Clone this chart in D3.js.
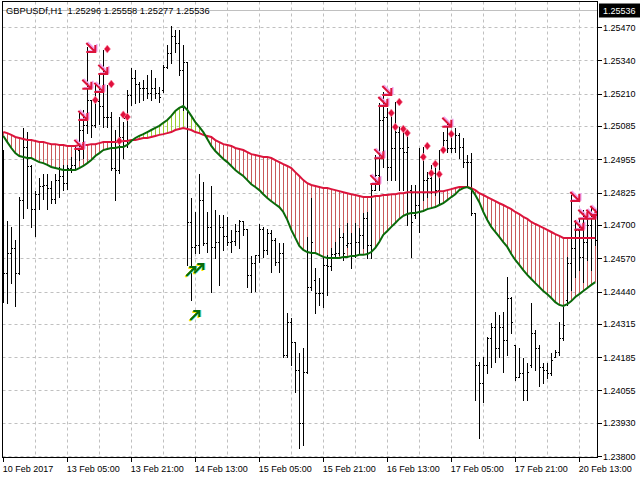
<!DOCTYPE html>
<html>
<head>
<meta charset="utf-8">
<script src="https://cdn.jsdelivr.net/npm/d3@7"></script>
<style>
  body { margin: 0; background: #fff; }
  svg { display: block; font-family: "Liberation Sans", Arial, sans-serif; }
</style>
</head>
<body>
<svg id="chart" width="640" height="480"></svg>
<script>
// GBPUSDf H1 bars, one entry per hour
const opens = [
  1.24758,1.24512,1.24590,1.24610,1.24512,1.24796,1.25003,1.24929,1.24761,1.24819,
  1.24851,1.24855,1.24843,1.24800,1.24874,1.24890,1.24862,1.24921,1.24933,1.24991,
  1.25069,1.25089,1.25186,1.25089,1.25182,1.25163,1.25120,1.25120,1.24921,1.24913,
  1.25042,1.25116,1.25206,1.25272,1.25248,1.25233,1.25233,1.25213,1.25233,1.25213,
  1.25225,1.25315,1.25368,1.25435,1.25407,1.25303,1.25334,1.24711,1.24614,1.24622,
  1.24796,1.24629,1.24692,1.24614,1.24633,1.24692,1.24657,1.24633,1.24637,1.24676,
  1.24715,1.24684,1.24505,1.24551,1.24583,1.24684,1.24602,1.24668,1.24641,1.24555,
  1.24590,1.24194,1.24321,1.24243,1.24135,1.23928,1.24127,1.24458,1.24485,1.24434,
  1.24434,1.24544,1.24540,1.24586,1.24590,1.24653,1.24622,1.24629,1.24583,1.24633,
  1.24661,1.24727,1.24622,1.24835,1.24894,1.25108,1.25120,1.24925,1.24999,1.25061,
  1.24999,1.24983,1.24835,1.24739,1.24777,1.24964,1.24874,1.24882,1.24901,1.24835,
  1.24991,1.25030,1.24999,1.24999,1.25050,1.25003,1.24944,1.24944,1.24746,1.24155,
  1.24084,1.24155,1.24259,1.24302,1.24221,1.24302,1.24251,1.24415,1.24232,1.24108,
  1.24123,1.24057,1.24155,1.24278,1.24221,1.24147,1.24135,1.24123,1.24186,1.24205,
  1.24259,1.24407,1.24551,1.24610,1.24680,1.24575,1.24633,1.24699,1.24727
];
const highs = [
  1.24991,1.24715,1.24692,1.24641,1.24808,1.25077,1.25061,1.24933,1.24831,1.24882,
  1.24897,1.24897,1.24870,1.24897,1.24925,1.24933,1.24933,1.24964,1.25003,1.25135,
  1.25147,1.25392,1.25186,1.25252,1.25284,1.25380,1.25245,1.25139,1.25069,1.25120,
  1.25100,1.25225,1.25311,1.25303,1.25256,1.25264,1.25284,1.25303,1.25272,1.25237,
  1.25323,1.25400,1.25474,1.25458,1.25458,1.25400,1.25334,1.24804,1.24750,1.24897,
  1.24866,1.24750,1.24851,1.24758,1.24739,1.24739,1.24731,1.24680,1.24703,1.24719,
  1.24715,1.24684,1.24579,1.24583,1.24703,1.24692,1.24684,1.24680,1.24649,1.24629,
  1.24629,1.24356,1.24337,1.24243,1.24201,1.24221,1.24653,1.24804,1.24532,1.24493,
  1.24575,1.24583,1.24610,1.24633,1.24688,1.24668,1.24707,1.24668,1.24707,1.24688,
  1.24746,1.24750,1.24862,1.24972,1.25174,1.25217,1.25155,1.25135,1.25178,1.25081,
  1.25069,1.25061,1.24855,1.24855,1.24999,1.25003,1.24905,1.24933,1.24925,1.24991,
  1.25061,1.25097,1.25069,1.25077,1.25057,1.25038,1.24972,1.24979,1.24746,1.24166,
  1.24186,1.24263,1.24317,1.24360,1.24349,1.24360,1.24497,1.24419,1.24232,1.24221,
  1.24182,1.24162,1.24395,1.24290,1.24232,1.24162,1.24162,1.24201,1.24213,1.24321,
  1.24380,1.24575,1.24816,1.24719,1.24727,1.24758,1.24750,1.24765,1.24765
];
const lows = [
  1.24399,1.24395,1.24473,1.24384,1.24508,1.24727,1.24765,1.24692,1.24657,1.24761,
  1.24800,1.24761,1.24784,1.24784,1.24808,1.24835,1.24839,1.24905,1.24917,1.24952,
  1.24960,1.25057,1.25042,1.25081,1.25092,1.25081,1.25081,1.24913,1.24796,1.24901,
  1.24960,1.25003,1.25167,1.25174,1.25178,1.25186,1.25194,1.25186,1.25194,1.25178,
  1.25217,1.25311,1.25330,1.25372,1.25284,1.25147,1.24544,1.24407,1.24590,1.24590,
  1.24622,1.24594,1.24438,1.24571,1.24466,1.24602,1.24622,1.24594,1.24622,1.24610,
  1.24661,1.24458,1.24438,1.24442,1.24555,1.24575,1.24586,1.24516,1.24544,1.24516,
  1.24186,1.24186,1.24155,1.24049,1.23831,1.23843,1.24123,1.24446,1.24356,1.24388,
  1.24380,1.24427,1.24524,1.24575,1.24583,1.24563,1.24614,1.24532,1.24575,1.24590,
  1.24610,1.24571,1.24571,1.24835,1.24835,1.24925,1.24874,1.24874,1.24874,1.24835,
  1.24835,1.24699,1.24575,1.24727,1.24672,1.24796,1.24808,1.24823,1.24816,1.24784,
  1.24991,1.24983,1.24983,1.24983,1.24960,1.24925,1.24855,1.24739,1.24018,1.23870,
  1.24010,1.24123,1.24147,1.24166,1.24186,1.24127,1.24194,1.24278,1.24096,1.24108,
  1.24018,1.24018,1.24147,1.24135,1.24073,1.24084,1.24104,1.24116,1.24186,1.24194,
  1.24251,1.24388,1.24446,1.24497,1.24524,1.24477,1.24563,1.24524,1.24622
];
const closes = [
  1.24512,1.24590,1.24610,1.24512,1.24796,1.25003,1.24929,1.24761,1.24819,1.24851,
  1.24855,1.24843,1.24800,1.24874,1.24890,1.24862,1.24921,1.24933,1.24999,1.25069,
  1.25089,1.25186,1.25089,1.25182,1.25163,1.25120,1.25120,1.24921,1.24913,1.25042,
  1.25116,1.25206,1.25272,1.25248,1.25233,1.25233,1.25213,1.25233,1.25213,1.25198,
  1.25315,1.25368,1.25435,1.25407,1.25303,1.25334,1.24711,1.24614,1.24622,1.24796,
  1.24629,1.24692,1.24614,1.24633,1.24692,1.24657,1.24633,1.24637,1.24676,1.24715,
  1.24684,1.24505,1.24551,1.24583,1.24684,1.24602,1.24668,1.24641,1.24555,1.24590,
  1.24194,1.24321,1.24243,1.24135,1.23928,1.24127,1.24458,1.24633,1.24434,1.24434,
  1.24544,1.24540,1.24586,1.24590,1.24653,1.24590,1.24629,1.24583,1.24633,1.24661,
  1.24727,1.24622,1.24835,1.24894,1.25108,1.25120,1.24925,1.24999,1.25061,1.24999,
  1.24983,1.25003,1.24711,1.24777,1.24964,1.24874,1.24882,1.24901,1.24835,1.24901,
  1.25030,1.24999,1.24999,1.25050,1.25003,1.24944,1.24944,1.24746,1.24155,1.24084,
  1.24155,1.24259,1.24302,1.24221,1.24302,1.24251,1.24415,1.24321,1.24108,1.24123,
  1.24057,1.24127,1.24278,1.24221,1.24147,1.24135,1.24123,1.24174,1.24205,1.24259,
  1.24310,1.24551,1.24610,1.24680,1.24575,1.24633,1.24699,1.24727,1.24641
];

// slow MA (crimson) and fast MA (green)
const slowMA = [
  1.25061,1.25057,1.25050,1.25042,1.25038,1.25034,1.25030,1.25030,1.25026,1.25022,
  1.25022,1.25018,1.25014,1.25014,1.25011,1.25011,1.25007,1.25007,1.25007,1.25011,
  1.25011,1.25011,1.25014,1.25014,1.25018,1.25022,1.25022,1.25022,1.25022,1.25022,
  1.25026,1.25026,1.25030,1.25030,1.25034,1.25038,1.25038,1.25042,1.25046,1.25050,
  1.25053,1.25057,1.25061,1.25069,1.25073,1.25077,1.25073,1.25069,1.25061,1.25057,
  1.25050,1.25046,1.25042,1.25030,1.25022,1.25014,1.25011,1.25007,1.24999,1.24995,
  1.24991,1.24983,1.24975,1.24972,1.24968,1.24964,1.24964,1.24960,1.24952,1.24944,
  1.24936,1.24929,1.24921,1.24905,1.24890,1.24874,1.24862,1.24855,1.24851,1.24847,
  1.24843,1.24843,1.24839,1.24835,1.24831,1.24827,1.24823,1.24819,1.24816,1.24812,
  1.24808,1.24808,1.24808,1.24812,1.24812,1.24816,1.24816,1.24819,1.24819,1.24823,
  1.24823,1.24827,1.24827,1.24827,1.24827,1.24827,1.24827,1.24827,1.24827,1.24831,
  1.24831,1.24835,1.24839,1.24843,1.24847,1.24847,1.24847,1.24843,1.24835,1.24823,
  1.24816,1.24808,1.24800,1.24792,1.24784,1.24777,1.24769,1.24761,1.24750,1.24742,
  1.24731,1.24723,1.24711,1.24703,1.24696,1.24688,1.24680,1.24672,1.24664,1.24657,
  1.24649,1.24649,1.24649,1.24649,1.24649,1.24649,1.24649,1.24649,1.24649
];
const fastMA = [
  1.25046,1.25022,1.24999,1.24979,1.24968,1.24964,1.24960,1.24960,1.24952,1.24944,
  1.24940,1.24933,1.24925,1.24921,1.24917,1.24913,1.24913,1.24913,1.24913,1.24921,
  1.24929,1.24940,1.24952,1.24968,1.24979,1.24991,1.24995,1.24999,1.24999,1.25003,
  1.25003,1.25011,1.25026,1.25038,1.25046,1.25053,1.25061,1.25069,1.25077,1.25085,
  1.25097,1.25108,1.25124,1.25143,1.25155,1.25163,1.25147,1.25124,1.25100,1.25081,
  1.25061,1.25034,1.25007,1.24987,1.24972,1.24956,1.24944,1.24929,1.24913,1.24901,
  1.24890,1.24874,1.24858,1.24847,1.24835,1.24819,1.24804,1.24792,1.24780,1.24769,
  1.24750,1.24719,1.24680,1.24649,1.24618,1.24602,1.24594,1.24590,1.24590,1.24583,
  1.24575,1.24571,1.24571,1.24571,1.24571,1.24575,1.24575,1.24579,1.24579,1.24583,
  1.24583,1.24586,1.24594,1.24610,1.24633,1.24661,1.24676,1.24692,1.24707,1.24723,
  1.24735,1.24742,1.24746,1.24746,1.24750,1.24754,1.24761,1.24765,1.24769,1.24777,
  1.24784,1.24796,1.24808,1.24819,1.24835,1.24843,1.24847,1.24839,1.24816,1.24788,
  1.24750,1.24719,1.24692,1.24672,1.24653,1.24633,1.24614,1.24586,1.24563,1.24544,
  1.24524,1.24505,1.24489,1.24473,1.24458,1.24442,1.24430,1.24415,1.24399,1.24388,
  1.24384,1.24391,1.24403,1.24419,1.24430,1.24442,1.24454,1.24466,1.24477
];

// signal markers: bar index + price level
const sellBars   = [19, 20, 21, 22, 24, 25, 93, 94, 95, 96, 111, 143, 144, 145, 147, 148];
const sellPrices = [1.25011,1.25124,1.25245,1.25388,1.25233,1.25303,1.24874,1.24975,1.25178,1.25221,1.25097,1.24808,1.24696,1.24739,1.24739,1.24754];
const dotBars   = [23, 26, 27, 29, 30, 31, 97, 98, 99, 100, 101, 105, 106, 107, 108, 109, 110, 112];
const dotPrices = [1.25186,1.25384,1.25248,1.25026,1.25128,1.25120,1.25135,1.25081,1.25178,1.25073,1.25057,1.24964,1.25007,1.24901,1.24937,1.24897,1.24991,1.25053];
const buyBars   = [47, 48, 49];
const buyPrices = [1.24520, 1.24349, 1.24532];

const priceTicks = [1.25470,1.25340,1.25210,1.25085,1.24955,1.24825,1.24700,1.24570,1.24440,1.24315,1.24185,1.24055,1.23930,1.23800];
const timeBars   = [0, 16, 32, 48, 64, 80, 96, 112, 128, 144];
const timeLabels = ["10 Feb 2017","13 Feb 05:00","13 Feb 21:00","14 Feb 13:00","15 Feb 05:00",
                    "15 Feb 21:00","16 Feb 13:00","17 Feb 05:00","17 Feb 21:00","20 Feb 13:00"];
const headerText = "GBPUSDf,H1  1.25296 1.25558 1.25277 1.25536";
const lastPrice = 1.25536;

(function() {
  var svg = d3.select("#chart");
  var pLeft = 2.5, pRight = 597.5, pTop = 1.5, pBottom = 457.5;

  var x = d3.scaleLinear().domain([0, opens.length - 1]).range([3.3, 595.3]);
  var y = d3.scaleLinear().domain([1.23800, 1.25470]).range([456, 27]);
  var px = function(v) { return Math.round(v) + 0.5; };

  svg.append("rect").attr("width", 640).attr("height", 480).attr("fill", "#fff");

  svg.append("clipPath").attr("id", "plot")
    .append("rect").attr("x", pLeft).attr("y", pTop)
    .attr("width", pRight - pLeft).attr("height", pBottom - pTop);

  var plot = svg.append("g").attr("clip-path", "url(#plot)");

  // dotted grid
  var gridBars = d3.range(8, opens.length, 8);
  plot.selectAll("line.vgrid").data(gridBars).enter().append("line")
    .attr("x1", d => px(x(d))).attr("x2", d => px(x(d)))
    .attr("y1", pTop).attr("y2", pBottom)
    .attr("stroke", "#c0c0c0").attr("stroke-dasharray", "3,3");
  plot.selectAll("line.hgrid").data(priceTicks).enter().append("line")
    .attr("x1", pLeft).attr("x2", pRight)
    .attr("y1", d => px(y(d))).attr("y2", d => px(y(d)))
    .attr("stroke", "#c0c0c0").attr("stroke-dasharray", "3,3");

  // current bid line
  plot.append("line")
    .attr("x1", pLeft).attr("x2", pRight)
    .attr("y1", px(y(lastPrice))).attr("y2", px(y(lastPrice)))
    .attr("stroke", "#c0c0c0");

  // histogram between the two averages
  plot.selectAll("line.hatch").data(slowMA).enter().append("line")
    .attr("shape-rendering", "crispEdges")
    .attr("x1", (d, i) => px(x(i))).attr("x2", (d, i) => px(x(i)))
    .attr("y1", d => y(d)).attr("y2", (d, i) => y(fastMA[i]))
    .attr("stroke", (d, i) => fastMA[i] > d ? "#9acd32" : "#c85a5a")
    .attr("stroke-width", 1);

  // OHLC bars
  var bars = plot.selectAll("g.bar").data(opens).enter().append("g")
    .attr("shape-rendering", "crispEdges")
    .attr("stroke", "#000").attr("stroke-width", 1);
  bars.append("line")
    .attr("x1", (d, i) => px(x(i))).attr("x2", (d, i) => px(x(i)))
    .attr("y1", (d, i) => Math.round(y(highs[i]))).attr("y2", (d, i) => Math.round(y(lows[i])) + 1);
  bars.append("line")
    .attr("x1", (d, i) => px(x(i)) - 1.5).attr("x2", (d, i) => px(x(i)))
    .attr("y1", d => px(y(d))).attr("y2", d => px(y(d)));
  bars.append("line")
    .attr("x1", (d, i) => px(x(i))).attr("x2", (d, i) => px(x(i)) + 1.5)
    .attr("y1", (d, i) => px(y(closes[i]))).attr("y2", (d, i) => px(y(closes[i])));

  // moving averages
  var maLine = d3.line().x((d, i) => x(i)).y(d => y(d));
  plot.append("path").datum(slowMA).attr("d", maLine)
    .attr("fill", "none").attr("stroke", "#dc143c").attr("stroke-width", 2);
  plot.append("path").datum(fastMA).attr("d", maLine)
    .attr("fill", "none").attr("stroke", "#0a6a0a").attr("stroke-width", 2);

  // sell arrows
  var sellArrow = "M-5,-5L4,4M-5,4H4V-3";
  var sells = plot.selectAll("g.sell").data(sellBars).enter().append("g")
    .attr("transform", (d, i) => "translate(" + x(d) + "," + y(sellPrices[i]) + ")")
    .attr("fill", "none");
  sells.append("path").attr("d", sellArrow).attr("stroke", "#f0a0f0")
    .attr("stroke-width", 1.5).attr("transform", "translate(1.5,-1)");
  sells.append("path").attr("d", sellArrow).attr("stroke", "#dc143c").attr("stroke-width", 2);

  // diamonds
  plot.selectAll("path.dot").data(dotBars).enter().append("path")
    .attr("d", "M0,-4L3.2,0L0,4L-3.2,0Z")
    .attr("transform", (d, i) => "translate(" + x(d) + "," + y(dotPrices[i]) + ")")
    .attr("fill", "#e0103c").attr("stroke", "#ff8aa8").attr("stroke-width", 0.6);

  // buy arrows
  var buyArrow = "M-5,5L4,-4M-2,-4H4V2";
  var buys = plot.selectAll("g.buy").data(buyBars).enter().append("g")
    .attr("transform", (d, i) => "translate(" + x(d) + "," + y(buyPrices[i]) + ")")
    .attr("fill", "none").attr("stroke-width", 2);
  buys.append("path").attr("d", buyArrow).attr("stroke", "#ffe600").attr("transform", "translate(-1,1)");
  buys.append("path").attr("d", buyArrow).attr("stroke", "#40e0f0").attr("transform", "translate(1,0)");
  buys.append("path").attr("d", buyArrow).attr("stroke", "#0a6a0a");

  // frame
  svg.append("rect").attr("x", pLeft).attr("y", pTop)
    .attr("width", pRight - pLeft).attr("height", pBottom - pTop)
    .attr("fill", "none").attr("stroke", "#000").attr("shape-rendering", "crispEdges");

  // header
  svg.append("text").attr("x", 6).attr("y", 14)
    .style("white-space", "pre").attr("font-size", "9.3px").attr("fill", "#000")
    .text(headerText);

  // price axis
  var yAxis = svg.append("g");
  yAxis.selectAll("line").data(priceTicks).enter().append("line")
    .attr("x1", pRight).attr("x2", pRight + 4)
    .attr("y1", d => px(y(d))).attr("y2", d => px(y(d)))
    .attr("stroke", "#000").attr("shape-rendering", "crispEdges");
  yAxis.selectAll("text").data(priceTicks).enter().append("text")
    .attr("x", 603).attr("y", d => y(d) + 3.5)
    .attr("font-size", "9px").attr("fill", "#000")
    .text(d => d.toFixed(5));

  svg.append("rect").attr("x", 599).attr("y", px(y(lastPrice)) - 7)
    .attr("width", 41).attr("height", 14).attr("fill", "#000");
  svg.append("text").attr("x", 603).attr("y", y(lastPrice) + 3.5)
    .attr("font-size", "9px").attr("fill", "#fff").text(lastPrice.toFixed(5));

  // time axis
  var xAxis = svg.append("g");
  xAxis.selectAll("line").data(timeBars).enter().append("line")
    .attr("x1", d => px(x(d))).attr("x2", d => px(x(d)))
    .attr("y1", pBottom).attr("y2", pBottom + 4)
    .attr("stroke", "#000").attr("shape-rendering", "crispEdges");
  xAxis.selectAll("text").data(timeBars).enter().append("text")
    .attr("x", d => x(d) - 0.5).attr("y", 472)
    .attr("font-size", "9px").attr("fill", "#000")
    .text((d, i) => timeLabels[i]);
})();
</script>
</body>
</html>
